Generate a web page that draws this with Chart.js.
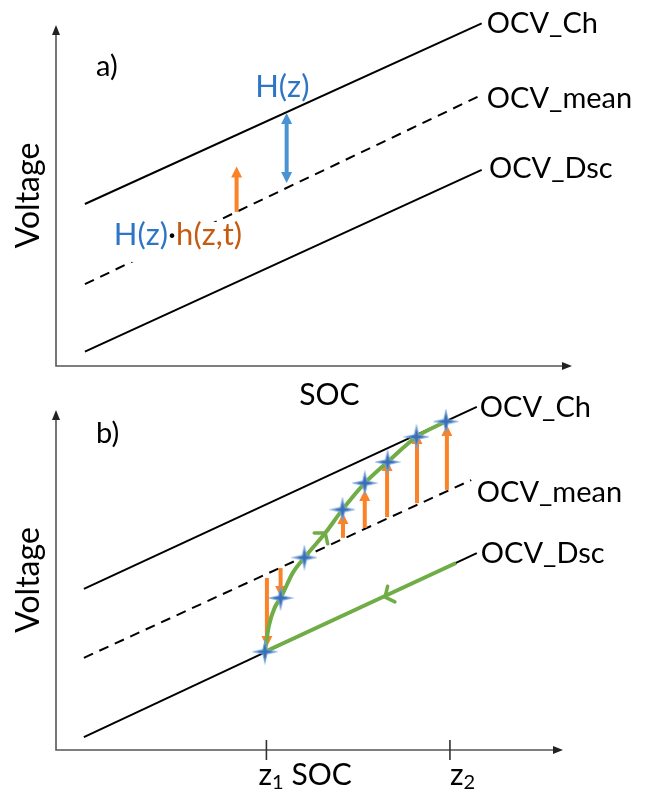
<!DOCTYPE html>
<html>
<head>
<meta charset="utf-8">
<script src="https://cdn.jsdelivr.net/npm/chart.js"></script>
<style>
  body { margin: 0; background: #fff; }
  #wrap { position: relative; width: 656px; height: 791px; overflow: hidden; }
  canvas { position: absolute; left: 0; }
  #chartA { top: 0; }
  #chartB { top: 390px; }
</style>
</head>
<body>
<div id="wrap">
  <canvas id="chartA" width="656" height="410"></canvas>
  <canvas id="chartB" width="656" height="401"></canvas>
</div>
<script>
// ---- panel a) data (SOC %, voltage in arbitrary units) ----
const lineXA = [5.6, 82.5];
const ocvChA = [47.5, 100.5];
const ocvMeanA = [24.0, 79.5];
const ocvDscA = [4.2, 57.5];
const hystArrowX = 44.7;          // H(z) double arrow
const hystArrowY = [53.7, 74.2];
const relaxArrowX = 35.0;         // H(z)*h(z,t) arrow
const relaxArrowY = [45.2, 58.5];

// ---- panel b) data ----
const lineXB = [5.5, 83.0];
const meanXB = [5.5, 81.9];
const ocvChB = [47.4, 100.9];
const ocvMeanB = [27.1, 79.4];
const ocvDscB = [3.8, 57.9];
const chargeX = [41.2, 42.0, 43.2, 44.3, 46.7, 49.0, 53.1, 56.5, 60.9, 65.4, 71.1, 76.9];
const chargeY = [28.9, 36.6, 42.1, 44.7, 52.1, 56.6, 63.8, 70.7, 78.5, 84.7, 92.1, 96.6];
const dischargeX = [78.9, 41.2];
const dischargeY = [55.0, 28.9];
const starX = [41.2, 44.3, 49.0, 56.5, 60.9, 65.4, 71.1, 76.9];
const starY = [28.9, 44.7, 56.6, 70.7, 78.5, 84.7, 92.1, 96.6];
const arrowX = [41.6, 44.3, 56.6, 60.9, 65.3, 71.2, 77.1];
const arrowFrom = [50.6, 53.5, 62.4, 65.3, 68.5, 72.6, 76.5];
const arrowTo = [30.3, 45.0, 69.7, 76.5, 85.3, 93.2, 95.6];
const zTicks = [41.5, 77.7];
const zLabels = ['1', '2'];

const FONT = 'Lato, "Open Sans", sans-serif';
const BLUE_TXT = '#2e75c6';
const ORANGE_TXT = '#c55a11';
const ORANGE = '#fb8226';
const BLUE = '#4a92d3';
const GREEN = '#70ad47';

const pts = (xs, ys) => xs.map((x, i) => ({ x, y: ys[i] }));

// 4-pointed star marker
function makeStar() {
  const c = document.createElement('canvas');
  c.width = c.height = 26;
  const g = c.getContext('2d');
  g.beginPath();
  for (let i = 0; i < 8; i++) {
    const a = i * Math.PI / 4 - Math.PI / 2;
    const r = i % 2 === 0 ? 11 : 3;
    g.lineTo(13 + r * Math.cos(a), 13 + r * Math.sin(a));
  }
  g.closePath();
  g.fillStyle = '#3a6fb7';
  g.fill();
  g.strokeStyle = 'rgba(120,165,220,0.8)';
  g.lineWidth = 1.2;
  g.stroke();
  return c;
}

function head(ctx, x, y, dir, hl, hw) {
  ctx.beginPath();
  ctx.moveTo(x, y);
  ctx.lineTo(x - hw / 2, y - dir * hl);
  ctx.lineTo(x + hw / 2, y - dir * hl);
  ctx.closePath();
  ctx.fill();
}

// vertical arrow in data units, head at y1 (both ends if twoHeads)
function vArrow(chart, x, y0, y1, color, twoHeads) {
  const { ctx, scales } = chart;
  const px = scales.x.getPixelForValue(x);
  const p0 = scales.y.getPixelForValue(y0);
  const p1 = scales.y.getPixelForValue(y1);
  const dir = Math.sign(p1 - p0);
  const hl = 11, hw = 11;
  ctx.save();
  ctx.strokeStyle = color;
  ctx.fillStyle = color;
  ctx.lineWidth = 4;
  ctx.beginPath();
  ctx.moveTo(px, twoHeads ? p0 + dir * (hl - 2) : p0);
  ctx.lineTo(px, p1 - dir * (hl - 2));
  ctx.stroke();
  head(ctx, px, p1, dir, hl, hw);
  if (twoHeads) head(ctx, px, p0, -dir, hl, hw);
  ctx.restore();
}

function chevron(chart, x, y, xa, ya, xb, yb) {
  const { ctx, scales } = chart;
  const px = scales.x.getPixelForValue(x), py = scales.y.getPixelForValue(y);
  const ang = Math.atan2(scales.y.getPixelForValue(yb) - scales.y.getPixelForValue(ya),
                         scales.x.getPixelForValue(xb) - scales.x.getPixelForValue(xa));
  const L = 11, s = 0.9;
  ctx.save();
  ctx.strokeStyle = GREEN;
  ctx.lineWidth = 3.5;
  ctx.lineCap = 'round';
  ctx.beginPath();
  ctx.moveTo(px - L * Math.cos(ang - s), py - L * Math.sin(ang - s));
  ctx.lineTo(px, py);
  ctx.lineTo(px - L * Math.cos(ang + s), py - L * Math.sin(ang + s));
  ctx.stroke();
  ctx.restore();
}

function drawParts(ctx, parts, x, y) {
  let cx = x;
  for (const p of parts) {
    ctx.font = (p.size || 29) + 'px ' + FONT;
    ctx.fillStyle = p.color || '#000';
    ctx.fillText(p.text, cx, y + (p.dy || 0));
    cx += ctx.measureText(p.text).width;
  }
  return cx;
}

// axes with arrows, titles and text annotations
const schematic = {
  id: 'schematic',
  beforeDatasetDraw(chart, args, opts) {
    if (opts.arrowsBefore === chart.data.datasets[args.index].label) opts.drawArrows(chart);
  },
  afterDatasetsDraw(chart, args, opts) {
    const { ctx, chartArea: a, scales } = chart;
    if (!opts.arrowsBefore && opts.drawArrows) opts.drawArrows(chart);
    if (opts.drawChevrons) opts.drawChevrons(chart);
    ctx.save();
    // axes
    ctx.strokeStyle = '#555';
    ctx.fillStyle = '#222';
    ctx.lineWidth = 1.6;
    ctx.beginPath();
    ctx.moveTo(a.left, a.top + 8);
    ctx.lineTo(a.left, a.bottom);
    ctx.lineTo(a.right - 8, a.bottom);
    ctx.stroke();
    ctx.beginPath();
    ctx.moveTo(a.left, a.top); ctx.lineTo(a.left - 4, a.top + 10); ctx.lineTo(a.left + 4, a.top + 10);
    ctx.closePath(); ctx.fill();
    ctx.beginPath();
    ctx.moveTo(a.right, a.bottom); ctx.lineTo(a.right - 10, a.bottom - 4); ctx.lineTo(a.right - 10, a.bottom + 4);
    ctx.closePath(); ctx.fill();
    // axis titles
    ctx.fillStyle = '#000';
    ctx.font = '30px ' + FONT;
    ctx.textAlign = 'center';
    ctx.fillText('SOC', scales.x.getPixelForValue(opts.socX), a.bottom + opts.socDy);
    ctx.save();
    ctx.translate(a.left - 27, (a.top + a.bottom) / 2);
    ctx.rotate(-Math.PI / 2);
    ctx.textBaseline = 'middle';
    ctx.font = '32px ' + FONT;
    ctx.fillText('Voltage', 0, 0);
    ctx.restore();
    ctx.textAlign = 'left';
    ctx.textBaseline = 'alphabetic';
    // text annotations
    for (const t of opts.texts) {
      const x = scales.x.getPixelForValue(t.x), y = scales.y.getPixelForValue(t.y);
      if (t.background) {
        let w = 0;
        for (const p of t.parts) { ctx.font = (p.size || 29) + 'px ' + FONT; w += ctx.measureText(p.text).width; }
        ctx.fillStyle = '#fff';
        ctx.fillRect(x - 3, y - 23, w + 6, 40);
      }
      drawParts(ctx, t.parts, x, y);
    }
    // z ticks
    if (opts.ticks) {
      ctx.strokeStyle = '#333';
      ctx.lineWidth = 1.6;
      opts.ticks.forEach((v, i) => {
        const px = scales.x.getPixelForValue(v);
        ctx.beginPath(); ctx.moveTo(px, a.bottom - 10); ctx.lineTo(px, a.bottom + 10); ctx.stroke();
        drawParts(ctx, [{ text: 'z', size: 30 }, { text: opts.tickLabels[i], size: 20, dy: 4 }], px + opts.tickDx[i], a.bottom + 35);
      });
    }
    ctx.restore();
  }
};

function blackLine(label, xs, ys, dashed) {
  return {
    label, data: pts(xs, ys), showLine: true, borderColor: '#000', borderWidth: 2,
    borderDash: dashed ? [10, 7] : [], pointRadius: 0, clip: false, order: 5
  };
}

function makeChart(id, datasets, padding, schematicOpts) {
  return new Chart(document.getElementById(id), {
    type: 'scatter',
    data: { datasets },
    options: {
      responsive: false,
      animation: false,
      events: [],
      layout: { padding },
      scales: {
        x: { type: 'linear', min: 0, max: 100, display: false },
        y: { type: 'linear', min: 0, max: 100, display: false }
      },
      plugins: { legend: { display: false }, tooltip: { enabled: false }, schematic: schematicOpts }
    },
    plugins: [schematic]
  });
}

// ---- panel a ----
makeChart('chartA', [
  blackLine('OCV_Ch', lineXA, ocvChA, false),
  blackLine('OCV_mean', lineXA, ocvMeanA, true),
  blackLine('OCV_Dsc', lineXA, ocvDscA, false)
], { left: 56, right: 84, top: 25, bottom: 44 }, {
  socX: 53.0, socDy: 39,
  drawArrows(chart) {
    vArrow(chart, hystArrowX, hystArrowY[0], hystArrowY[1], BLUE, true);
    vArrow(chart, relaxArrowX, relaxArrowY[0], relaxArrowY[1], ORANGE, false);
  },
  texts: [
    { x: 83.5, y: 97.7, parts: [{ text: 'OCV_Ch' }] },
    { x: 83.5, y: 75.7, parts: [{ text: 'OCV_mean' }] },
    { x: 83.9, y: 55.1, parts: [{ text: 'OCV_Dsc' }] },
    { x: 7.75, y: 85.0, parts: [{ text: 'a)' }] },
    { x: 38.6, y: 78.9, parts: [{ text: 'H(z)', color: BLUE_TXT, size: 31 }] },
    { x: 11.2, y: 35.5, background: true,
      parts: [{ text: 'H(z)', color: BLUE_TXT, size: 31 }, { text: '\u00b7', size: 31 }, { text: 'h(z,t)', color: ORANGE_TXT, size: 31 }] }
  ]
});

// ---- panel b ----
const star = makeStar();
makeChart('chartB', [
  { label: 'points', data: pts(starX, starY), pointStyle: star, pointRadius: 11, clip: false, order: 0 },
  { label: 'charge', data: pts(chargeX, chargeY), showLine: true, borderColor: GREEN, borderWidth: 4,
    cubicInterpolationMode: 'monotone', pointRadius: 0, clip: false, order: 1 },
  { label: 'discharge', data: pts(dischargeX, dischargeY), showLine: true, borderColor: GREEN, borderWidth: 4,
    pointRadius: 0, clip: false, order: 2 },
  blackLine('OCV_Ch', lineXB, ocvChB, false),
  blackLine('OCV_mean', meanXB, ocvMeanB, true),
  blackLine('OCV_Dsc', lineXB, ocvDscB, false)
], { left: 56, right: 93, top: 20, bottom: 41 }, {
  socX: 52.4, socDy: 35,
  arrowsBefore: 'discharge',
  drawArrows(chart) {
    arrowX.forEach((x, i) => vArrow(chart, x, arrowFrom[i], arrowTo[i], ORANGE, false));
  },
  drawChevrons(chart) {
    chevron(chart, chargeX[6], chargeY[6], chargeX[5], chargeY[5], chargeX[7], chargeY[7]);
    chevron(chart, 64.9, 45.0, dischargeX[0], dischargeY[0], dischargeX[1], dischargeY[1]);
  },
  ticks: zTicks, tickLabels: zLabels, tickDx: [-8, 0],
  texts: [
    { x: 83.6, y: 97.9, parts: [{ text: 'OCV_Ch' }] },
    { x: 83.0, y: 72.9, parts: [{ text: 'OCV_mean' }] },
    { x: 83.8, y: 55.0, parts: [{ text: 'OCV_Dsc' }] },
    { x: 7.9, y: 90.3, parts: [{ text: 'b)' }] }
  ]
});
</script>
</body>
</html>
